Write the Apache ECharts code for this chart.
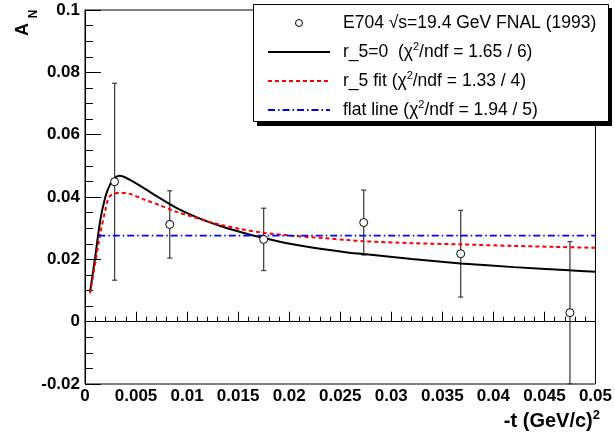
<!DOCTYPE html>
<html><head><meta charset="utf-8">
<script src="https://cdn.jsdelivr.net/npm/echarts@6/dist/echarts.min.js"></script>
<style>html,body{margin:0;padding:0;background:#fff}#c{width:615px;height:437px}</style>
</head><body><div id="c"></div>
<script>
// ---- tick labels ----
const xTickLabels = ['0','0.005','0.01','0.015','0.02','0.025','0.03','0.035','0.04','0.045','0.05'];
const yTickLabels = ['-0.02','0','0.02','0.04','0.06','0.08','0.1'];

// ---- E704 data points: -t, A_N, error ----
const dataT   = [0.0029, 0.0083, 0.0175, 0.0273, 0.0368, 0.0475];
const dataA   = [0.0449, 0.0312, 0.0264, 0.0318, 0.0218, 0.0029];
const dataErr = [0.0316, 0.0108, 0.0100, 0.0104, 0.0139, 0.0228];

// ---- r_5 = 0 curve ----
const zeroT = [0.0005, 0.001, 0.0015, 0.002, 0.0025, 0.003, 0.0034, 0.0044, 0.0057, 0.0073, 0.0089, 0.0105, 0.0121, 0.0137, 0.0153, 0.0173, 0.0202, 0.0234, 0.0257, 0.0273, 0.032, 0.0368, 0.042, 0.0474, 0.05];
const zeroA = [0.0096, 0.0208, 0.0326, 0.0401, 0.0443, 0.0463, 0.0468, 0.0455, 0.0430, 0.0397, 0.0366, 0.0341, 0.0320, 0.0302, 0.0287, 0.0270, 0.0249, 0.0232, 0.0222, 0.0217, 0.0201, 0.0187, 0.0175, 0.0165, 0.0160];

// ---- r_5 fit curve ----
const fitT = [0.0005, 0.001, 0.0015, 0.002, 0.0024, 0.0034, 0.0044, 0.0057, 0.0073, 0.0089, 0.0105, 0.0121, 0.0137, 0.0153, 0.0173, 0.0202, 0.0234, 0.0257, 0.0273, 0.032, 0.0368, 0.042, 0.046, 0.05];
const fitA = [0.0091, 0.0187, 0.0283, 0.0358, 0.0401, 0.0414, 0.0410, 0.0393, 0.0374, 0.0353, 0.0337, 0.0321, 0.0308, 0.0297, 0.0286, 0.0276, 0.0268, 0.0262, 0.0258, 0.0252, 0.0248, 0.0243, 0.0240, 0.0237];

// ---- flat line ----
const flatT = [0.0013, 0.05];
const flatA = [0.0276, 0.0276];

// ---- legend ----
const seriesNames = ['E704 √s=19.4 GeV FNAL (1993)', 'r_5=0', 'r_5 fit', 'flat line'];
const legendPre  = ['E704 √s=19.4 GeV FNAL (1993)', 'r_5=0  (χ', 'r_5 fit (χ', 'flat line (χ'];
const legendPost = ['', '/ndf = 1.65 / 6)', '/ndf = 1.33 / 4)', '/ndf = 1.94 / 5)'];

const FONT = 'Liberation Sans, Arial, Helvetica, sans-serif';
const zip = (a, b) => a.map((v, i) => [v, b[i]]);

const xMin = 0, xMax = 0.05, xInt = 0.005;
const yMin = -0.02, yMax = 0.1, yInt = 0.02;

const chart = echarts.init(document.getElementById('c'), null, {renderer: 'canvas'});
chart.setOption({
  animation: false,
  backgroundColor: '#fff',
  grid: {left: 85, right: 14, top: 10, bottom: 53, show: true, borderColor: '#000', borderWidth: 1, backgroundColor: 'transparent'},
  xAxis: {
    type: 'value', min: xMin, max: xMax, interval: xInt,
    axisLine: {show: true, lineStyle: {color: '#000', width: 1}},
    axisTick: {show: true, inside: true, length: 10, lineStyle: {color: '#000', width: 1}},
    minorTick: {show: true, splitNumber: 5, length: 5, lineStyle: {color: '#000', width: 1}},
    splitLine: {show: false}, minorSplitLine: {show: false},
    axisLabel: {margin: 4, color: '#000', fontFamily: FONT, fontWeight: 'bold', fontSize: 17,
      formatter: v => xTickLabels[Math.round((v - xMin) / xInt)]}
  },
  yAxis: {
    type: 'value', min: yMin, max: yMax, interval: yInt,
    axisLine: {show: true, lineStyle: {color: '#000', width: 1}},
    axisTick: {show: true, inside: true, length: 16, lineStyle: {color: '#000', width: 1}},
    minorTick: {show: true, splitNumber: 4, length: 8, lineStyle: {color: '#000', width: 1}},
    splitLine: {show: false}, minorSplitLine: {show: false},
    axisLabel: {margin: 5, color: '#000', fontFamily: FONT, fontWeight: 'bold', fontSize: 17,
      formatter: v => yTickLabels[Math.round((v - yMin) / yInt)]}
  },
  legend: {
    orient: 'vertical', left: 253, top: 4, z: 10,
    padding: [10, 10, 4, 14], itemGap: 9, itemWidth: 62, itemHeight: 7,
    backgroundColor: 'transparent', borderWidth: 0,
    selectedMode: false,
    data: seriesNames.map((n, i) => i === 0
      ? {name: n, itemStyle: {color: '#fff', borderColor: '#000', borderWidth: 1}}
      : {name: n, itemStyle: {opacity: 0}}),
    formatter: name => {
      const i = seriesNames.indexOf(name);
      return legendPost[i] ? '{t|' + legendPre[i] + '}{s|2}{t|' + legendPost[i] + '}' : '{t|' + legendPre[i] + '}';
    },
    textStyle: {padding: [0, 0, 0, 8],
      rich: {t: {fontFamily: FONT, fontSize: 17.5, lineHeight: 22, color: '#000'},
             s: {fontFamily: FONT, fontSize: 11, lineHeight: 11, verticalAlign: 'top', color: '#000'}}}
  },
  graphic: [
    {type: 'rect', z: 6, shape: {x: 257, y: 8, width: 355, height: 118}, style: {fill: '#000'}},
    {type: 'rect', z: 7, shape: {x: 253.5, y: 4.5, width: 355, height: 117}, style: {fill: '#fff', stroke: '#000', lineWidth: 1}},
    {type: 'text', z: 8, x: 23.5, y: 29.5, rotation: Math.PI / 2,
     style: {text: 'A', font: 'bold 18px ' + FONT, fill: '#000', align: 'center', verticalAlign: 'middle'}},
    {type: 'text', z: 8, x: 34, y: 14, rotation: Math.PI / 2,
     style: {text: 'N', font: 'bold 12px ' + FONT, fill: '#000', align: 'center', verticalAlign: 'middle'}},
    {type: 'text', z: 8, x: 600, y: 421,
     style: {text: '{t|-t (GeV/c)}{s|2}', align: 'right', verticalAlign: 'middle',
       rich: {t: {fontFamily: FONT, fontWeight: 'bold', fontSize: 20, lineHeight: 24, fill: '#000'},
              s: {fontFamily: FONT, fontWeight: 'bold', fontSize: 13, lineHeight: 13, verticalAlign: 'top', fill: '#000'}}}}
  ],
  series: [
    {
      name: 'errbars', type: 'custom', z: 2,
      data: dataT.map((t, i) => [t, dataA[i], dataErr[i]]),
      encode: {x: 0, y: 1},
      renderItem: (params, api) => {
        const x = api.value(0), y = api.value(1), e = api.value(2);
        const top = api.coord([x, y + e]), bot = api.coord([x, y - e]);
        const cw = 2.5, st = {stroke: '#444', lineWidth: 1.3};
        return {type: 'group', children: [
          {type: 'line', shape: {x1: top[0], y1: top[1], x2: bot[0], y2: bot[1]}, style: st},
          {type: 'line', shape: {x1: top[0] - cw, y1: top[1], x2: top[0] + cw, y2: top[1]}, style: st},
          {type: 'line', shape: {x1: bot[0] - cw, y1: bot[1], x2: bot[0] + cw, y2: bot[1]}, style: st}
        ]};
      }
    },
    {
      name: seriesNames[1], type: 'line', z: 3, symbol: 'none', smooth: 0.3,
      data: zip(zeroT, zeroA),
      lineStyle: {color: '#000', width: 2, type: 'solid'}, itemStyle: {color: '#000'},
      markLine: {silent: true, symbol: 'none', label: {show: false},
        lineStyle: {color: '#000', width: 1, type: 'solid'}, data: [{yAxis: 0}]}
    },
    {
      name: seriesNames[2], type: 'line', z: 3, symbol: 'none', smooth: 0.3,
      data: zip(fitT, fitA),
      lineStyle: {color: '#ff0000', width: 2, type: [4, 3]}, itemStyle: {color: '#ff0000'}
    },
    {
      name: seriesNames[3], type: 'line', z: 3, symbol: 'none',
      data: zip(flatT, flatA),
      lineStyle: {color: '#0000ff', width: 1.6, type: [7, 3, 1.5, 3]}, itemStyle: {color: '#0000ff'}
    },
    {
      name: seriesNames[0], type: 'scatter', z: 5, symbol: 'circle', symbolSize: 8,
      data: zip(dataT, dataA),
      itemStyle: {color: '#fff', borderColor: '#000', borderWidth: 1, opacity: 1}
    }
  ]
});
</script>
</body></html>
